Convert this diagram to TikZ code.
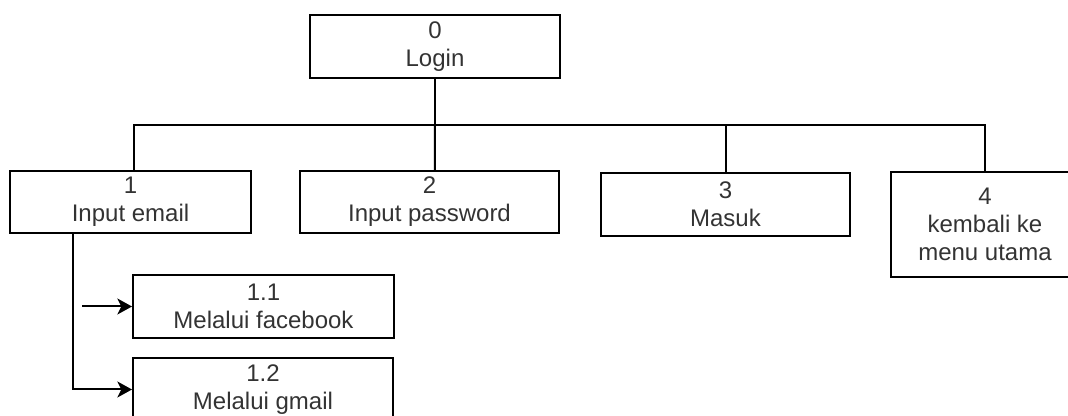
\documentclass[tikz,border=0pt]{standalone}
\usepackage{fontspec}
\setmainfont{Liberation Sans}
\usetikzlibrary{arrows.meta}
\begin{document}
\begin{tikzpicture}[x=0.75pt,y=-0.75pt,
  box/.style={draw=black, line width=1.5pt, inner sep=0pt, align=center,
    text=black!80, font=\fontsize{18}{21}\selectfont},
  bw/.style={minimum width=#1*0.75pt},
  bh/.style={minimum height=#1*0.75pt},
  link/.style={draw=black, line width=1.5pt},
  arr/.style={link, -{Stealth[length=11pt,width=12pt,inset=3pt]}}]
\useasboundingbox (0,0) rectangle (1068,416);
\clip (0,0) rectangle (1068,416);

% hierarchy boxes
\node[box, bw=250, bh=63]  (b0)  at (435,46.5)   {0\\Login};
\node[box, bw=241, bh=62]  (b1)  at (130.5,202)  {1\\Input email};
\node[box, bw=259, bh=62]  (b2)  at (429.5,202)  {2\\Input password};
\node[box, bw=249, bh=63]  (b3)  at (725.5,204.5){3\\Masuk};
\node[box, bw=188, bh=105] (b4)  at (985,224.5)  {4\\kembali ke\\menu utama};
\node[box, bw=261, bh=63]  (b11) at (263.5,306.5){1.1\\Melalui facebook};
\node[box, bw=260, bh=63]  (b12) at (263,389.5)  {1.2\\Melalui gmail};

% tree connectors
\coordinate (bus) at (435,125);
\draw[link] (b0.south) -- (bus);
\draw[link] (bus) -| ([xshift=2.6pt]b1.north);
\draw[link] (bus) -- ([xshift=4pt]b2.north);
\draw[link] (bus) -| (b3.north);
\draw[link] (bus) -| (b4.north);

% sub-item arrows
\coordinate (fbtail) at (82,306.5);
\draw[arr] (fbtail) -- (b11.west);
\draw[arr] ([xshift=-43.5pt]b1.south) |- (b12.west);
\end{tikzpicture}
\end{document}
